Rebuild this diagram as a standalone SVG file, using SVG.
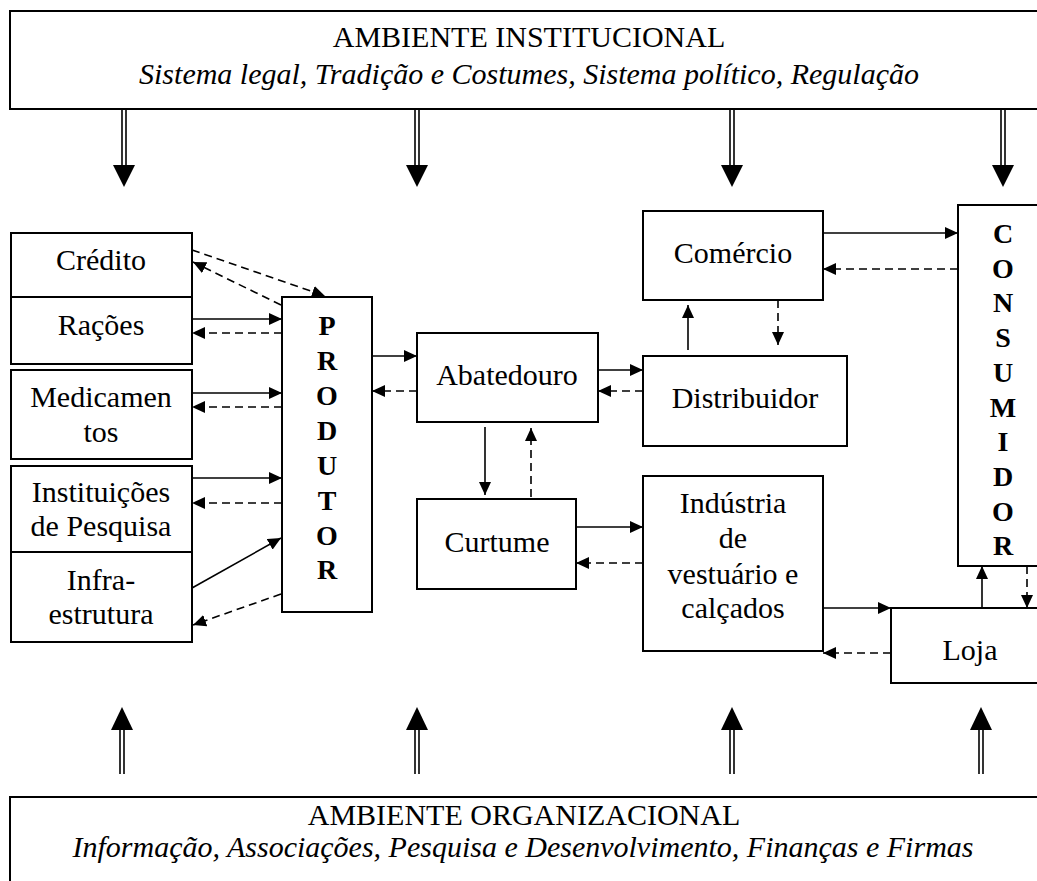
<svg xmlns="http://www.w3.org/2000/svg" width="1037" height="881" viewBox="0 0 1037 881">
<style>
.box{fill:#fff;stroke:#000;stroke-width:2}
.t{font-family:"Liberation Serif","Times New Roman",serif;font-size:30px;text-anchor:middle;fill:#000}
.i{font-style:italic}
.b{font-family:"Liberation Serif","Times New Roman",serif;font-size:28px;font-weight:bold;text-anchor:middle;fill:#000}
.s{stroke:#000;stroke-width:1.6;fill:none;marker-end:url(#ah)}
.d{stroke:#000;stroke-width:1.6;fill:none;stroke-dasharray:8 5;marker-end:url(#ah)}
.dl{stroke:#000;stroke-width:1.6;fill:none}
</style>
<defs>
<marker id="ah" markerUnits="userSpaceOnUse" markerWidth="13" markerHeight="12" refX="13" refY="6" orient="auto">
<path d="M0,0 L13,6 L0,12 z" fill="#000"/>
</marker>
<g id="dnArrow">
<line x1="-2" y1="0" x2="-2" y2="57" class="dl"/>
<line x1="2" y1="0" x2="2" y2="57" class="dl"/>
<path d="M-11,56 L11,56 L0,78 z" fill="#000"/>
</g>
<g id="upArrow">
<line x1="-2" y1="22" x2="-2" y2="67" class="dl"/>
<line x1="2" y1="22" x2="2" y2="67" class="dl"/>
<path d="M-11,23 L11,23 L0,0 z" fill="#000"/>
</g>
</defs>
<rect width="1037" height="881" fill="#fff"/>

<g id="ambiente-institucional">
<rect x="10" y="11" width="1040" height="98" class="box"/>
<text x="529" y="47" class="t">AMBIENTE INSTITUCIONAL</text>
<text x="529" y="84" class="t i">Sistema legal, Tradição e Costumes, Sistema político, Regulação</text>
</g>

<g id="ambiente-organizacional">
<rect x="10" y="797" width="1040" height="100" class="box"/>
<text x="524" y="825" class="t">AMBIENTE ORGANIZACIONAL</text>
<text x="523" y="857" class="t i">Informação, Associações, Pesquisa e Desenvolvimento, Finanças e Firmas</text>
</g>

<g id="credito"><rect x="11" y="233" width="181" height="64" class="box"/><text x="101" y="270" class="t">Crédito</text></g>
<g id="racoes"><rect x="11" y="297" width="181" height="67" class="box"/><text x="101" y="335" class="t">Rações</text></g>
<g id="medicamentos"><rect x="11" y="370" width="181" height="89" class="box"/><text x="101" y="407" class="t">Medicamen</text><text x="101" y="442" class="t">tos</text></g>
<g id="instituicoes"><rect x="11" y="466" width="181" height="86" class="box"/><text x="101" y="502" class="t">Instituições</text><text x="101" y="536" class="t">de Pesquisa</text></g>
<g id="infraestrutura"><rect x="11" y="552" width="181" height="90" class="box"/><text x="101" y="590" class="t">Infra-</text><text x="101" y="624" class="t">estrutura</text></g>

<g id="produtor"><rect x="282" y="297" width="90" height="315" class="box"/>
<text x="327" y="335" class="b">P</text><text x="327" y="370" class="b">R</text><text x="327" y="405" class="b">O</text><text x="327" y="440" class="b">D</text><text x="327" y="475" class="b">U</text><text x="327" y="510" class="b">T</text><text x="327" y="545" class="b">O</text><text x="327" y="579" class="b">R</text></g>

<g id="abatedouro"><rect x="417" y="333" width="181" height="89" class="box"/><text x="507" y="385" class="t">Abatedouro</text></g>
<g id="curtume"><rect x="417" y="499" width="159" height="90" class="box"/><text x="497" y="552" class="t">Curtume</text></g>
<g id="comercio"><rect x="643" y="211" width="180" height="89" class="box"/><text x="733" y="263" class="t">Comércio</text></g>
<g id="distribuidor"><rect x="643" y="356" width="204" height="90" class="box"/><text x="745" y="408" class="t">Distribuidor</text></g>
<g id="industria"><rect x="643" y="476" width="180" height="175" class="box"/>
<text x="733" y="513" class="t">Indústria</text><text x="733" y="548" class="t">de</text><text x="733" y="584" class="t">vestuário e</text><text x="733" y="618" class="t">calçados</text></g>
<g id="consumidor"><rect x="958" y="205" width="100" height="361" class="box"/>
<text x="1003" y="243" class="b">C</text><text x="1003" y="278" class="b">O</text><text x="1003" y="312" class="b">N</text><text x="1003" y="347" class="b">S</text><text x="1003" y="382" class="b">U</text><text x="1003" y="417" class="b">M</text><text x="1003" y="451" class="b">I</text><text x="1003" y="486" class="b">D</text><text x="1003" y="521" class="b">O</text><text x="1003" y="555" class="b">R</text></g>
<g id="loja"><rect x="891" y="608" width="160" height="75" class="box"/><text x="970" y="660" class="t">Loja</text></g>

<g id="connectors">
<use href="#dnArrow" x="124" y="109"/>
<use href="#dnArrow" x="417" y="109"/>
<use href="#dnArrow" x="732" y="109"/>
<use href="#dnArrow" x="1003" y="109"/>
<use href="#upArrow" x="122" y="707"/>
<use href="#upArrow" x="417" y="707"/>
<use href="#upArrow" x="732" y="707"/>
<use href="#upArrow" x="981" y="707"/>

<line x1="192" y1="250" x2="325" y2="296" class="d"/>
<line x1="281" y1="305" x2="193" y2="262" class="d"/>
<line x1="192" y1="319" x2="282" y2="319" class="s"/>
<line x1="282" y1="333" x2="192" y2="333" class="d"/>
<line x1="192" y1="393" x2="282" y2="393" class="s"/>
<line x1="282" y1="407" x2="192" y2="407" class="d"/>
<line x1="192" y1="478" x2="282" y2="478" class="s"/>
<line x1="282" y1="503" x2="192" y2="503" class="d"/>
<line x1="192" y1="588" x2="281" y2="538" class="s"/>
<line x1="281" y1="594" x2="193" y2="625" class="d"/>

<line x1="372" y1="356" x2="417" y2="356" class="s"/>
<line x1="417" y1="391" x2="372" y2="391" class="d"/>
<line x1="598" y1="370" x2="643" y2="370" class="s"/>
<line x1="643" y1="391" x2="598" y2="391" class="d"/>
<line x1="485" y1="427" x2="485" y2="495" class="s"/>
<line x1="531" y1="497" x2="531" y2="428" class="d"/>

<line x1="823" y1="233" x2="958" y2="233" class="s"/>
<line x1="958" y1="269" x2="823" y2="269" class="d"/>
<line x1="688" y1="350" x2="688" y2="305" class="s"/>
<line x1="778" y1="300" x2="778" y2="345" class="d"/>

<line x1="576" y1="527" x2="643" y2="527" class="s"/>
<line x1="643" y1="563" x2="576" y2="563" class="d"/>
<line x1="823" y1="608" x2="891" y2="608" class="s"/>
<line x1="891" y1="653" x2="823" y2="653" class="d"/>
<line x1="982" y1="608" x2="982" y2="566" class="s"/>
<line x1="1027" y1="566" x2="1027" y2="608" class="d"/>
</g>
</svg>
